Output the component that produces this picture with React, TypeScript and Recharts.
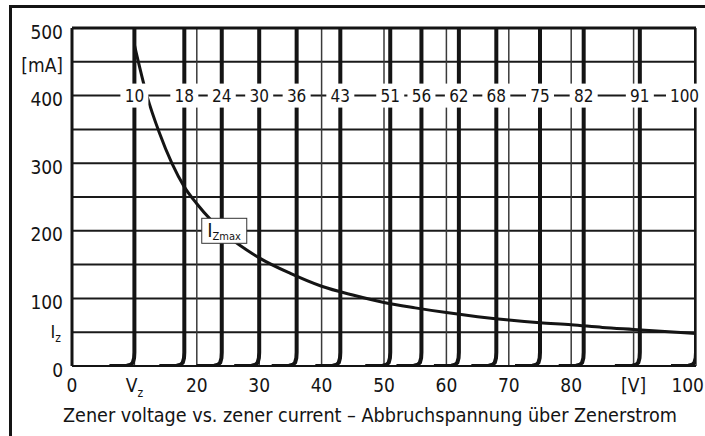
import {
  LineChart, Line, XAxis, YAxis, CartesianGrid,
  ReferenceDot, ReferenceLine,
} from "recharts";

const FONT = "'DejaVu Sans Condensed', 'DejaVu Sans', sans-serif";
const INK = "#141414";

// axis ticks
const X_TICKS = [0, 10, 20, 30, 40, 50, 60, 70, 80, 90, 100];
const Y_TICKS = [0, 50, 100, 150, 200, 250, 300, 350, 400, 450, 500];

// zener voltages of the family of curves
const ZENER_V = [10, 18, 24, 30, 36, 43, 51, 56, 62, 68, 75, 82, 91, 100];

// shape of the knee at the bottom of each zener curve (offset in V, current in mA)
const KNEE_DV = [-4, -1.2, -0.6, -0.25, -0.05, 0, 0];
const KNEE_I = [0, 0.5, 2, 5, 12, 20, 500];

// maximum zener current curve
const IZMAX_V = [10, 12, 14, 16, 18, 20, 25, 30, 35, 40, 45, 50, 55, 60, 65, 70, 75, 80, 85, 90, 95, 100];
const IZMAX_I = [475, 400, 345, 300, 265, 240, 192, 160, 137, 118, 105, 94, 86, 79, 73, 68, 64, 61, 57, 54, 51, 48];

const izmaxData = IZMAX_V.map((v, i) => ({ v, i: IZMAX_I[i] }));
const zenerData = (vz: number) =>
  KNEE_DV.map((dv, k) => ({ v: vz + dv, i: KNEE_I[k] }));

function XTick({ x, y, payload }: any) {
  const v = payload.value;
  let content: any = String(v);
  if (v === 10) content = <>V<tspan fontSize={12} dy={5}>z</tspan></>;
  if (v === 90) content = "[V]";
  // last label sits flush with the right edge, as in the original
  const last = v === 100;
  return (
    <text
      x={last ? x + 8 : x} y={y + 26} textAnchor={last ? "end" : "middle"}
      fill={INK} fontSize={19} fontFamily={FONT}
    >
      {content}
    </text>
  );
}

function YTick({ x, y, payload }: any) {
  const v = payload.value;
  if (v === 150 || v === 250 || v === 350) return null;
  if (v === 50) {
    return (
      <text x={x - 2} y={y + 6} textAnchor="end" fill={INK} fontSize={18} fontFamily={FONT}>
        I<tspan fontSize={12} dy={4}>z</tspan>
      </text>
    );
  }
  const label = v === 450 ? "[mA]" : String(v);
  return (
    <text x={x} y={y + 10.5} textAnchor="end" fill={INK} fontSize={19} fontFamily={FONT}>
      {label}
    </text>
  );
}

function ZenerTag({ cx, cy, text }: any) {
  const w = text.length * 9 + 10;
  const right = Math.min(cx + w / 2, 703);
  const left = right - w;
  return (
    <g>
      <rect x={left} y={cy - 12} width={w} height={24} fill="#fff" />
      <text x={left + w / 2} y={cy + 6.5} textAnchor="middle" fill={INK} fontSize={17} fontFamily={FONT}>
        {text}
      </text>
    </g>
  );
}

function IzmaxTag({ cx, cy }: any) {
  return (
    <g>
      <rect x={cx - 22.5} y={cy - 12.5} width={45} height={25} fill="#fff" stroke="#333" strokeWidth={1} />
      <text x={cx - 17} y={cy + 6} fill={INK} fontSize={20} fontFamily={FONT}>
        I<tspan fontSize={11} dy={3}>Zmax</tspan>
      </text>
    </g>
  );
}

export default function App() {
  return (
    <div
      style={{
        position: "absolute", left: 0, top: 0, width: 705, height: 436,
        background: "#fff", overflow: "hidden", fontFamily: FONT,
      }}
    >
      <div
        style={{
          position: "absolute", left: 9, top: 5, width: 720, height: 460,
          borderLeft: `3px solid ${INK}`, borderTop: `3px solid ${INK}`,
        }}
      />
      <div style={{ position: "absolute", left: 0, top: 0 }}>
        <LineChart width={705} height={436} margin={{ top: 28, right: 9, bottom: 40, left: 12 }}>
          <CartesianGrid vertical={false} stroke="#1a1a1a" strokeWidth={2} />
          <CartesianGrid horizontal={false} stroke="#3a3a3a" strokeWidth={1.5} />
          <XAxis
            type="number" dataKey="v" domain={[0, 100]} ticks={X_TICKS}
            allowDataOverflow height={30} tickLine={false} tickSize={0} tickMargin={0}
            axisLine={{ stroke: INK, strokeWidth: 2 }} tick={<XTick />} interval={0}
          />
          <YAxis
            type="number" dataKey="i" domain={[0, 500]} ticks={Y_TICKS}
            allowDataOverflow width={60} tickLine={false} tickSize={0} tickMargin={9}
            axisLine={{ stroke: INK, strokeWidth: 3 }} tick={<YTick />} interval={0}
          />
          <ReferenceLine y={500} stroke={INK} strokeWidth={3} />
          {ZENER_V.map((vz) => (
            <Line
              key={vz} data={zenerData(vz)} dataKey="i" type="linear"
              stroke={INK} strokeWidth={4} dot={false} strokeLinejoin="round"
              isAnimationActive={false}
            />
          ))}
          <Line
            data={izmaxData} dataKey="i" type="monotone"
            stroke={INK} strokeWidth={3} dot={false} isAnimationActive={false}
          />
          {ZENER_V.map((vz) => (
            <ReferenceDot
              key={"t" + vz} x={vz} y={400} r={0}
              shape={(p: any) => <ZenerTag cx={p.cx} cy={p.cy} text={String(vz)} />}
            />
          ))}
          <ReferenceDot x={24.4} y={200} r={0} shape={(p: any) => <IzmaxTag cx={p.cx} cy={p.cy} />} />
        </LineChart>
      </div>
      <div
        style={{
          position: "absolute", left: 63, top: 404,
          fontSize: 19.6, color: INK, whiteSpace: "nowrap", lineHeight: "24px",
        }}
      >
        Zener voltage vs. zener current – Abbruchspannung über Zenerstrom
      </div>
    </div>
  );
}
